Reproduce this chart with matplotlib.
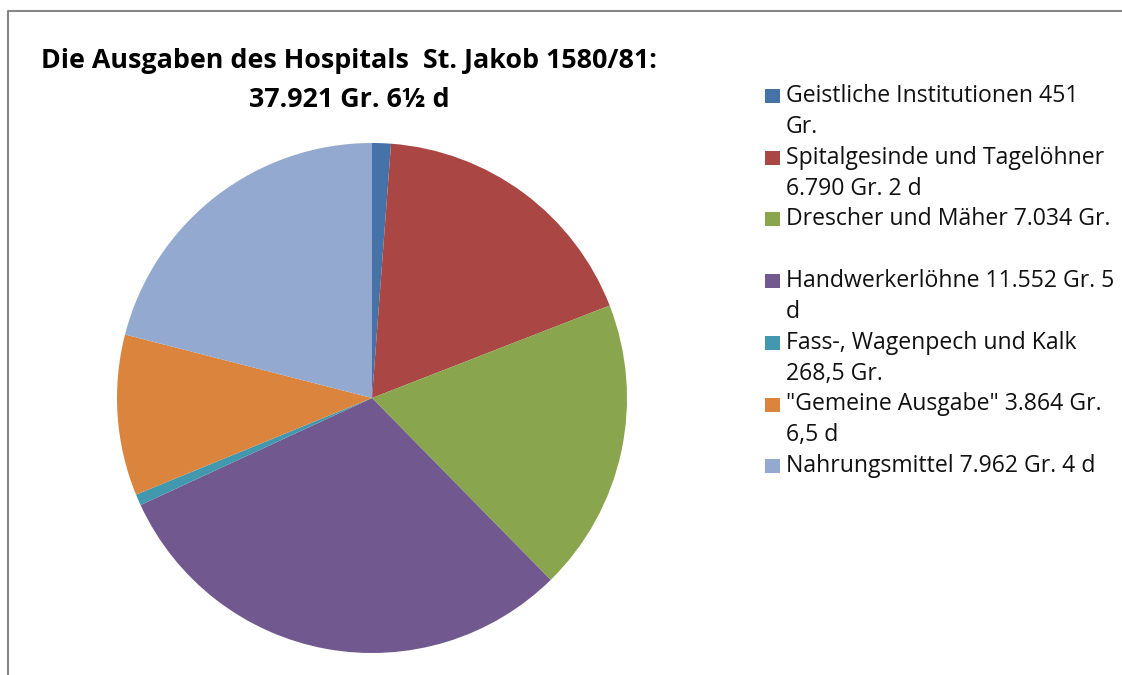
import matplotlib.pyplot as plt
from matplotlib.patches import Rectangle
from matplotlib.lines import Line2D

plt.rcParams['font.family'] = ['Open Sans', 'DejaVu Sans']

# Ausgaben in Groschen (Pfennige als Bruchteil, 12 d = 1 Gr.)
labels = [
    "Geistliche Institutionen 451\nGr.",
    "Spitalgesinde und Tagelöhner\n6.790 Gr. 2 d",
    "Drescher und Mäher 7.034 Gr.",
    "Handwerkerlöhne 11.552 Gr. 5\nd",
    "Fass-, Wagenpech und Kalk\n268,5 Gr.",
    "\"Gemeine Ausgabe\" 3.864 Gr.\n6,5 d",
    "Nahrungsmittel 7.962 Gr. 4 d",
]
values = [451, 6790 + 2 / 12, 7034, 11552 + 5 / 12, 268.5, 3864 + 6.5 / 12, 7962 + 4 / 12]
colors = ["#4572A7", "#AA4643", "#89A54E", "#71588F", "#4198AF", "#DB843D", "#93A9CF"]
title_lines = ["Die Ausgaben des Hospitals  St. Jakob 1580/81:", "37.921 Gr. 6½ d"]

W, H = 1122, 675
fig = plt.figure(figsize=(W / 100, H / 100), dpi=100)

# pie: centre (372, 398) px, radius 255 px
cx, cy, r = 372, 398, 255
ax = fig.add_axes([(cx - r) / W, (H - cy - r) / H, 2 * r / W, 2 * r / H])
ax.pie(values, colors=colors, startangle=90, counterclock=False,
       radius=1, wedgeprops=dict(linewidth=0))
ax.set_xlim(-1, 1)
ax.set_ylim(-1, 1)
ax.set_aspect('equal')
ax.axis('off')

# title, one text per line (baselines in px from top)
for txt, base in zip(title_lines, [68, 107]):
    fig.text(349 / W, 1 - base / H, txt, ha='center', va='baseline',
             fontsize=19.4, fontweight='bold', color='black')

# legend drawn by hand (Excel layout: squares at first text line)
entry_step = 61.7
line_h = 31
for i, (lab, col) in enumerate(zip(labels, colors)):
    base = 102 + i * entry_step
    fig.patches.append(Rectangle((765 / W, 1 - (base + 1) / H), 15 / W, 14 / H,
                                 transform=fig.transFigure, facecolor=col, edgecolor='none'))
    for j, part in enumerate(lab.split("\n")):
        fig.text(786 / W, 1 - (base + j * line_h) / H, part, ha='left', va='baseline',
                 fontsize=16.6, color='#111111')

fig.lines.append(Line2D([8 / W, 8 / W, 1], [0, 1 - 11 / H, 1 - 11 / H],
                        transform=fig.transFigure, color='#868686', linewidth=1.5))

fig.savefig("out.png", dpi=100)
